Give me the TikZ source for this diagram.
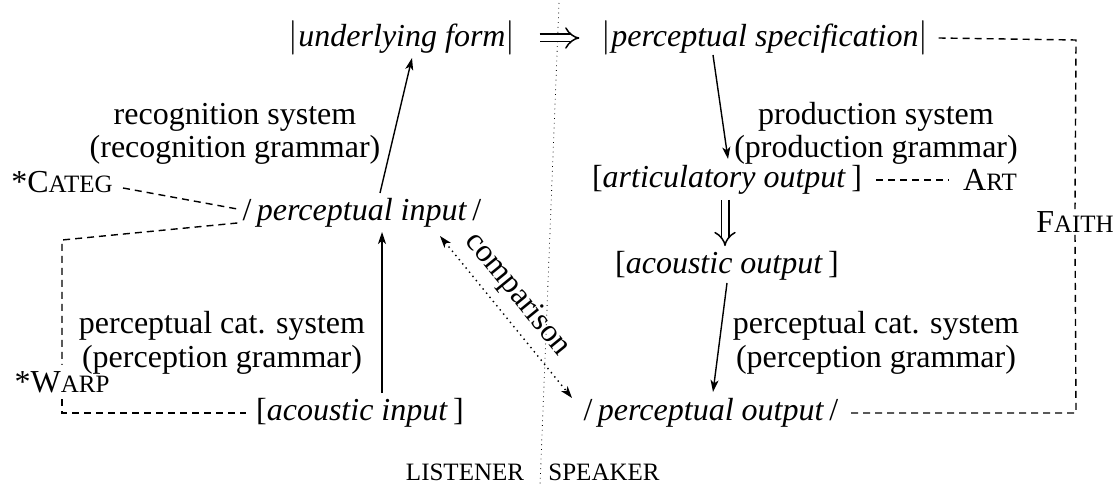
\documentclass[tikz,border=0pt]{standalone}
\usepackage{fontspec}
\setmainfont{Liberation Serif}
\usetikzlibrary{arrows.meta,calc}
\newcommand\smc[1]{{\fontsize{12.5}{13}\selectfont #1}}
\begin{document}
\begin{tikzpicture}[x=0.5pt,y=-0.5pt,
  every node/.style={inner sep=1pt, font=\fontsize{16}{18}\selectfont},
  tip/.style={-{Stealth[length=6pt,width=4pt,inset=1.6pt]}},
  arr/.style={line width=0.7pt,tip},
  dsh/.style={line width=0.7pt,dash pattern=on 3.5pt off 2.5pt},
  dbl/.style={double,line width=0.75pt,double distance=3pt,-{Implies}},
  cmp/.style={line width=0.7pt,dotted,{Stealth[length=6pt,width=4pt,inset=1.6pt]}-{Stealth[length=6pt,width=4pt,inset=1.6pt]}}]
\useasboundingbox (0,0) rectangle (1117,486);
% divider
\coordinate (dtop) at (559,3);
\coordinate (dbot) at (540,486);
\draw[line width=0.4pt,dotted] (dtop) -- (dbot);
% nodes
\node (uf) at (402,38) {$|$\textit{underlying form}$|$};
\node (ps) at (765,38) {$|$\textit{perceptual specification}$|$};
\node (rs1) at (235,117) {recognition system};
\node (rs2) at (235,150) {(recognition grammar)};
\node (pr1) at (876,117) {production system};
\node (pr2) at (876,150) {(production grammar)};
\node (categ) at (62,182) {*C\smc{ATEG}};
\node (ao) at (727,180) {[\textit{articulatory output}\,]};
\node (art) at (990,180) {A\smc{RT}};
\node (pi) at (362,213) {/\,\textit{perceptual input}\,/};
\node (faith) at (1075,222) {F\smc{AITH}};
\node (aco) at (727,266) {[\textit{acoustic output}\,]};
\node (pcL1) at (222,326) {perceptual cat. system};
\node (pcL2) at (222,360) {(perception grammar)};
\node (pcR1) at (876,326) {perceptual cat. system};
\node (pcR2) at (876,360) {(perception grammar)};
\node (warp) at (62,382) {*W\smc{ARP}};
\node (ai) at (360,413) {[\textit{acoustic input}\,]};
\node (po) at (711,413) {/\,\textit{perceptual output}\,/};
\node (lis) at (465,472) {\smc{LISTENER}};
\node (spk) at (604,472) {\smc{SPEAKER}};
% double arrows
\draw[dbl] ($(uf.east)+(22,0)$) -- ($(ps.west)+(-20,0)$);
\draw[dbl] ($(ao.south)+(-2,3)$) -- ($(aco.north)+(-2,-3)$);
% arrows
\draw[arr] ($(pi)+(18,-20)$) -- ($(uf)+(10,20)$);
\draw[arr] ($(ai)+(22,-20)$) -- ($(pi)+(20,19)$);
\draw[arr] ($(ps)+(-52,17)$) -- ($(ao)+(1,-21)$);
\draw[arr] ($(aco)+(0,17)$) -- ($(po)+(2,-21)$);
\draw[cmp] ($(pi)+(78,23)$) -- node[sloped,above=3pt,pos=0.45] {comparison} ($(po)+(-139,-15)$);
% dashed constraints
\coordinate (ftr) at (1076,40);
\coordinate (fbr) at (1076,413);
\draw[dsh] ($(ps.east)+(8,0)$) -- (ftr) -- (faith.north);
\draw[dsh] (faith.south) -- (fbr) -- ($(po.east)+(8,0)$);
\draw[dsh] ($(ao.east)+(12,0)$) -- ($(art.west)+(-12,0)$);
\draw[dsh] ($(categ.east)+(8,6)$) -- ($(pi.west)+(-3,-4)$);
\coordinate (wtl) at (62,240);
\coordinate (wbl) at (62,413);
\draw[dsh] ($(pi.west)+(-3,10)$) -- (wtl) -- ($(warp.north)+(0,-4)$);
\draw[dsh] ($(warp.south)+(0,4)$) -- (wbl) -- ($(ai.west)+(-8,0)$);
\end{tikzpicture}
\end{document}
